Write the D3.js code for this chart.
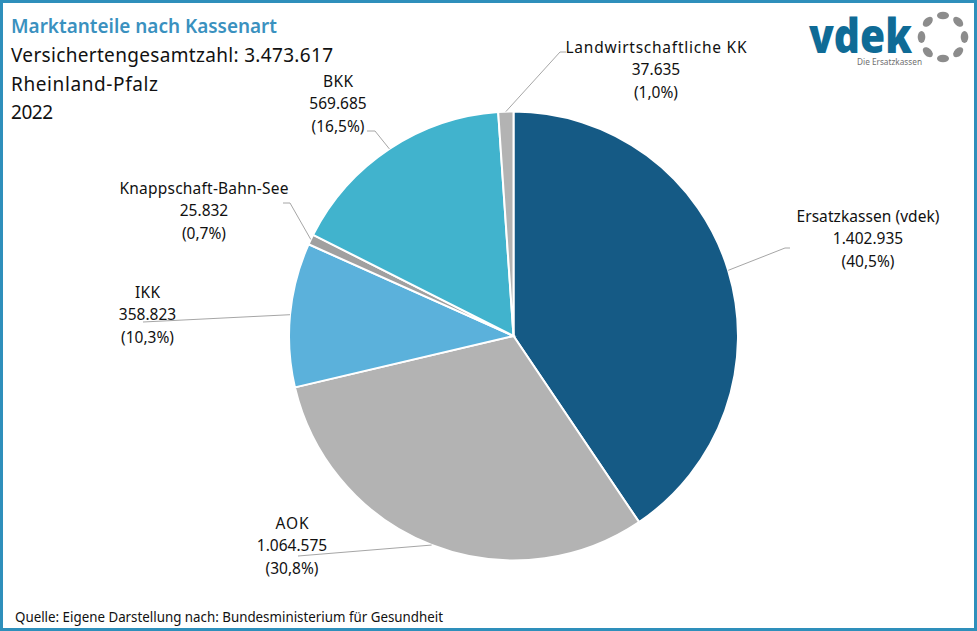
<!DOCTYPE html>
<html>
<head>
<meta charset="utf-8">
<script src="https://cdn.jsdelivr.net/npm/d3@7"></script>
<style>
  html, body { margin: 0; padding: 0; background: #fff; }
  svg { display: block; }
  text { font-family: "Noto Sans", sans-serif; fill: #111; }
</style>
</head>
<body>
<div id="chart"></div>
<script>
// data
const categories = ["Ersatzkassen (vdek)", "AOK", "IKK", "Knappschaft-Bahn-See", "BKK", "Landwirtschaftliche KK"];
const members = [1402935, 1064575, 358823, 25832, 569685, 37635];
const memberLabels = ["1.402.935", "1.064.575", "358.823", "25.832", "569.685", "37.635"];
const shareLabels = ["(40,5%)", "(30,8%)", "(10,3%)", "(0,7%)", "(16,5%)", "(1,0%)"];
const headerLines = ["Versichertengesamtzahl: 3.473.617", "Rheinland-Pfalz", "2022"];

const colors = ["#155a85", "#b3b3b3", "#5bb1db", "#a0a0a0", "#41b3cd", "#b3b3b3"];

const width = 977;
const height = 631;
const cx = 513.5;
const cy = 336;
const radius = 224.5;

// label centre, name width and elbow of the leader line, per category
const labelPos = [
  { x: 868, y: 217, nameW: 143, elbow: [[785, 248], [790, 248]] },
  { x: 292, y: 524, nameW: 33, elbow: [[298, 556]] },
  { x: 147.5, y: 293, nameW: 25, elbow: [[143, 322]] },
  { x: 204, y: 189, nameW: 169, elbow: [[290, 203], [283, 203]] },
  { x: 338, y: 82, nameW: 30, elbow: [[375, 131], [367, 131]] },
  { x: 656, y: 48, nameW: 181, elbow: [[560, 52], [566, 52]] },
];
const lineStep = 22.3;
const headerWidths = [322, 147, 42];

const svg = d3
  .select("#chart")
  .append("svg")
  .attr("width", width)
  .attr("height", height);

svg
  .append("rect")
  .attr("x", 1.5)
  .attr("y", 1.5)
  .attr("width", width - 3)
  .attr("height", height - 3)
  .attr("fill", "#fff")
  .attr("stroke", "#2e8fbb")
  .attr("stroke-width", 3);

const pie = d3.pie().sort(null).value((d) => d);
const arcs = pie(members);
const arc = d3.arc().innerRadius(0).outerRadius(radius);

const chart = svg.append("g").attr("transform", `translate(${cx},${cy})`);

chart
  .selectAll("path")
  .data(arcs)
  .join("path")
  .attr("d", arc)
  .attr("fill", (d, i) => colors[i])
  .attr("stroke", "#fff")
  .attr("stroke-width", 2);

// leader lines start on the rim of each slice
const line = d3.line();
svg
  .append("g")
  .selectAll("path")
  .data(arcs)
  .join("path")
  .attr("fill", "none")
  .attr("stroke", "#a6a6a6")
  .attr("stroke-width", 1)
  .attr("d", (d, i) => {
    const mid = (d.startAngle + d.endAngle) / 2;
    const start = [cx + radius * Math.sin(mid), cy - radius * Math.cos(mid)];
    return line([start, ...labelPos[i].elbow]);
  });

// slice labels
const labels = svg
  .append("g")
  .selectAll("text")
  .data(categories)
  .join("text")
  .attr("text-anchor", "middle")
  .attr("font-size", 15.5);

labels.each(function (name, i) {
  const rows = [name, memberLabels[i], shareLabels[i]];
  d3.select(this)
    .selectAll("tspan")
    .data(rows)
    .join("tspan")
    .attr("x", labelPos[i].x)
    .attr("y", (r, k) => labelPos[i].y + 5 + k * lineStep)
    .attr("textLength", (r, k) => (k === 0 ? labelPos[i].nameW : null))
    .text((r) => r);
});

// header
svg
  .append("text")
  .attr("x", 11)
  .attr("y", 33)
  .attr("font-size", 20)
  .attr("font-weight", 600)
  .attr("textLength", 266)
  .attr("lengthAdjust", "spacingAndGlyphs")
  .style("fill", "#3a91bf")
  .text("Marktanteile nach Kassenart");

svg
  .append("g")
  .selectAll("text")
  .data(headerLines)
  .join("text")
  .attr("x", 11)
  .attr("y", (d, i) => 62 + i * 28.5)
  .attr("font-size", 19)
  .attr("textLength", (d, i) => headerWidths[i])
  .text((d) => d);

svg
  .append("text")
  .attr("x", 15)
  .attr("y", 622)
  .attr("font-size", 14)
  .attr("textLength", 428)
  .attr("lengthAdjust", "spacingAndGlyphs")
  .text("Quelle: Eigene Darstellung nach: Bundesministerium für Gesundheit");

// logo
const logo = svg.append("g");
logo
  .append("text")
  .attr("x", 809)
  .attr("y", 53)
  .attr("font-size", 47)
  .attr("font-weight", 800)
  .attr("textLength", 103)
  .attr("lengthAdjust", "spacingAndGlyphs")
  .style("fill", "#0f6b96")
  .style("font-family", "'Open Sans', sans-serif")
  .text("vdek");
logo
  .append("text")
  .attr("x", 857)
  .attr("y", 65)
  .attr("font-size", 8.5)
  .attr("textLength", 65)
  .attr("lengthAdjust", "spacingAndGlyphs")
  .style("fill", "#6f6f6f")
  .text("Die Ersatzkassen");

const ringCx = 943;
const ringCy = 37;
logo
  .selectAll("ellipse")
  .data(d3.range(8))
  .join("ellipse")
  .attr("rx", 6)
  .attr("ry", 3.8)
  .attr("fill", "#8c8c8c")
  .attr("transform", (d) => `translate(${ringCx},${ringCy}) rotate(${d * 45}) translate(0,-21.5)`);
</script>
</body>
</html>
